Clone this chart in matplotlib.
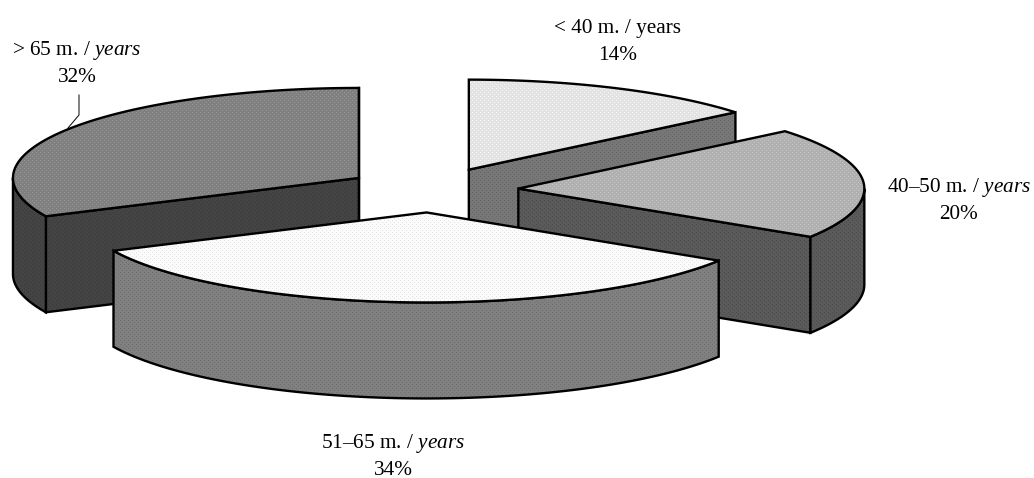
import numpy as np
import matplotlib
matplotlib.use("Agg")
import matplotlib.pyplot as plt
from matplotlib.patches import Polygon

plt.rcParams["font.family"] = "Liberation Serif"
plt.rcParams["mathtext.fontset"] = "custom"
plt.rcParams["mathtext.rm"] = "Liberation Serif"
plt.rcParams["mathtext.it"] = "Liberation Serif:italic"

age_labels = ["< 40 m. / years", r"40–50 m. / $\mathit{years}$", r"51–65 m. / $\mathit{years}$", r"> 65 m. / $\mathit{years}$"]
shares = [14, 20, 34, 32]
top_colors = [("#e3e3e3", "#f6f6f6"), ("#b0b0b0", "#c6c6c6"), ("#fbfbfb", "#e2e2e2"), ("#808080", "#979797")]
side_colors = [("#777777", "#666666"), ("#5a5a5a", "#4c4c4c"), ("#808080", "#6e6e6e"), ("#444444", "#383838")]
label_xy = [(617.5, 33), (959, 192), (393, 448), (77, 55)]

W, H = 1034, 478
CX, CY = 432, 190
A, B = 346, 90
DEPTH = 96
EXPLODE = 0.25
LW = 1.7

fig = plt.figure(figsize=(W / 100, H / 100), dpi=100)
ax = fig.add_axes([0, 0, 1, 1])
ax.set_xlim(0, W)
ax.set_ylim(H, 0)
ax.axis("off")

yy, xx = np.mgrid[0:H, 0:W]
dots = ((xx % 4 == 0) & (yy % 4 == 0)) | ((xx % 4 == 2) & (yy % 4 == 2))


def rim(ox, oy, t0, t1, n=120):
    t = np.radians(np.linspace(t0, t1, n))
    return np.column_stack([ox + A * np.sin(t), oy - B * np.cos(t)])


def face(pts, colors, z):
    # halftone look: flat grey with a staggered dot grid, clipped to the face
    c0 = np.array(matplotlib.colors.to_rgb(colors[0]))
    c1 = np.array(matplotlib.colors.to_rgb(colors[1]))
    img = np.where(dots[..., None], c1, c0)
    im = ax.imshow(img, extent=(0, W, H, 0), interpolation="nearest", aspect="auto", zorder=z)
    outline = Polygon(pts, closed=True, fc="none", ec="black", lw=LW, joinstyle="miter", zorder=z + 0.5)
    ax.add_patch(outline)
    im.set_clip_path(outline)


def extrude(top):
    return np.vstack([top, (top + [0, DEPTH])[::-1]])


edges = np.cumsum([0] + shares) / sum(shares) * 360
draw_order = [0, 3, 1, 2]
for rank, i in enumerate(draw_order):
    t0, t1 = edges[i], edges[i + 1]
    mid = np.radians((t0 + t1) / 2)
    ox = CX + EXPLODE * A * np.sin(mid)
    oy = CY - EXPLODE * B * np.cos(mid)
    apex = np.array([[ox, oy]])
    arc = rim(ox, oy, t0, t1)
    z = 10 * (rank + 1)

    # walls that face the viewer
    if t0 < 90 and t1 < 180:
        if t1 > 90:
            face(extrude(np.vstack([apex, rim(ox, oy, t1, t1, 1)])), side_colors[i], z)
            face(extrude(rim(ox, oy, 90, t1)), side_colors[i], z + 1)
        else:
            face(extrude(np.vstack([apex, rim(ox, oy, t1, t1, 1)])), side_colors[i], z)
    elif t0 >= 180:
        face(extrude(np.vstack([apex, rim(ox, oy, t0, t0, 1)])), side_colors[i], z)
        face(extrude(rim(ox, oy, t0, 270)), side_colors[i], z + 1)
        ax.plot([ox, ox], [oy - B, oy + DEPTH], color="black", lw=LW, zorder=z + 3)
    else:
        face(extrude(arc), side_colors[i], z)

    face(np.vstack([apex, arc]), top_colors[i], z + 2)

for (x, y), lab, share in zip(label_xy, age_labels, shares):
    ax.text(x, y, lab, ha="center", va="baseline", fontsize=15.3, color="black", zorder=100)
    ax.text(x, y + 27, f"{share}%", ha="center", va="baseline", fontsize=15.3, color="black", zorder=100)

# leader line of the > 65 label
ax.plot([79, 79, 68], [95, 115, 128], color="black", lw=0.7, zorder=5)

fig.savefig("out.png", dpi=100)
